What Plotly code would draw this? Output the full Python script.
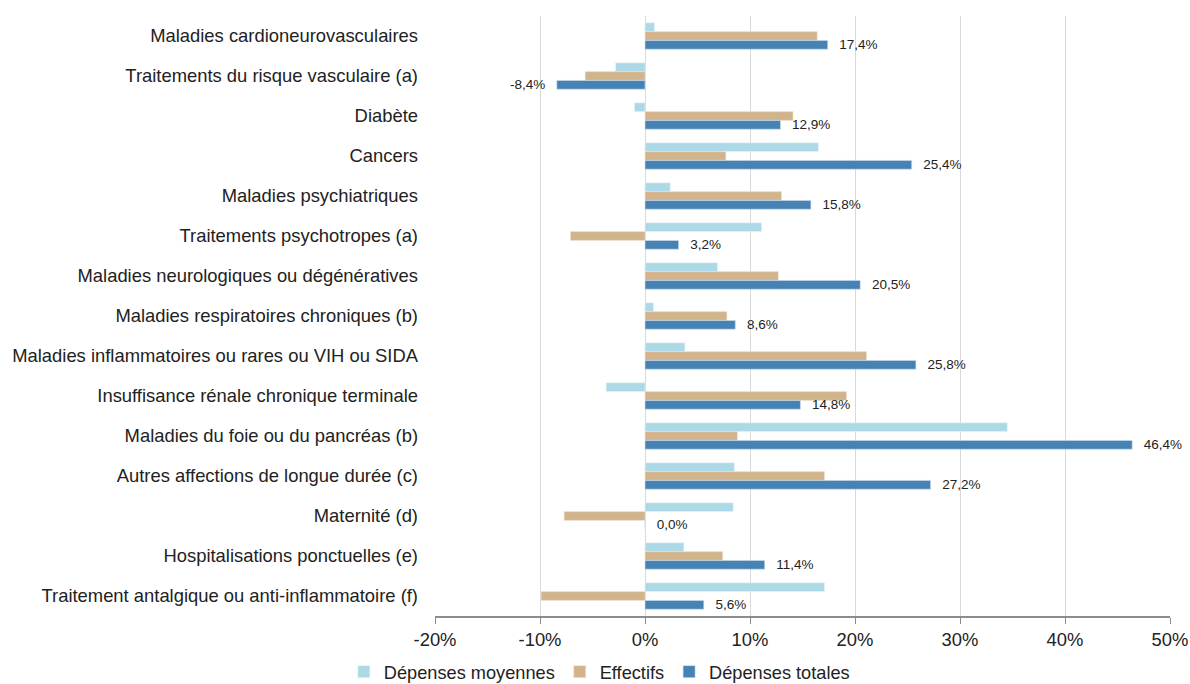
import plotly.graph_objects as go

categories = [
    "Maladies cardioneurovasculaires",
    "Traitements du risque vasculaire (a)",
    "Diabète",
    "Cancers",
    "Maladies psychiatriques",
    "Traitements psychotropes (a)",
    "Maladies neurologiques ou dégénératives",
    "Maladies respiratoires chroniques (b)",
    "Maladies inflammatoires ou rares ou VIH ou SIDA",
    "Insuffisance rénale chronique terminale",
    "Maladies du foie ou du pancréas (b)",
    "Autres affections de longue durée (c)",
    "Maternité (d)",
    "Hospitalisations ponctuelles (e)",
    "Traitement antalgique ou anti-inflammatoire (f)",
]

depenses_moyennes = [0.9, -2.8, -1.0, 16.5, 2.4, 11.1, 6.9, 0.8, 3.8, -3.7, 34.5, 8.5, 8.4, 3.7, 17.1]
effectifs = [16.4, -5.7, 14.1, 7.7, 13.0, -7.1, 12.7, 7.8, 21.1, 19.2, 8.8, 17.1, -7.7, 7.4, -9.9]
depenses_totales = [17.4, -8.4, 12.9, 25.4, 15.8, 3.2, 20.5, 8.6, 25.8, 14.8, 46.4, 27.2, 0.0, 11.4, 5.6]

x_ticks = [-20, -10, 0, 10, 20, 30, 40, 50]

FONT = "Arial, Liberation Sans, sans-serif"
PAD = "\u00a0\u00a0\u200a"


def fmt(v):
    s = f"{v:.1f}".replace(".", ",") + "%"
    return s + PAD if v < 0 else PAD + s


fig = go.Figure()
fig.add_trace(go.Bar(
    y=categories, x=depenses_moyennes, orientation="h", name="Dépenses moyennes",
    marker=dict(color="#ADD8E6", line=dict(color="#e6f2f7", width=0.6)),
    hoverinfo="x+y",
))
fig.add_trace(go.Bar(
    y=categories, x=effectifs, orientation="h", name="Effectifs",
    marker=dict(color="#D2B48C", line=dict(color="#f0e6d8", width=0.6)),
    hoverinfo="x+y",
))
fig.add_trace(go.Bar(
    y=categories, x=depenses_totales, orientation="h", name="Dépenses totales",
    marker=dict(color="#4682B4", line=dict(color="#cfe0ee", width=0.6)),
    text=[fmt(v) for v in depenses_totales], textposition="outside",
    constraintext="none",
    textfont=dict(size=13.5, color="#222222", family=FONT),
    cliponaxis=False, hoverinfo="x+y",
))

fig.update_layout(
    width=1190, height=684,
    margin=dict(l=435, r=20, t=16, b=68, autoexpand=False),
    paper_bgcolor="white", plot_bgcolor="white",
    barmode="group", bargap=0.34, bargroupgap=0,
    font=dict(family=FONT, size=18.4, color="#222222"),
    showlegend=True,
    legend=dict(
        orientation="h", x=-0.124, xanchor="left", y=-0.093, yanchor="middle",
        font=dict(size=18.2, color="#222222"), traceorder="normal",
        itemwidth=30, tracegroupgap=0,
    ),
    xaxis=dict(
        range=[-20, 50], tickvals=x_ticks, ticktext=[f"{t}%" for t in x_ticks],
        showgrid=True, gridcolor="#d9d9d9", gridwidth=1, zeroline=False,
        showline=True, linecolor="#8c8c8c", linewidth=1.5,
        ticks="outside", ticklen=6, tickcolor="#8c8c8c", tickwidth=1.2,
        tickfont=dict(size=18.4, color="#222222"),
    ),
    yaxis=dict(
        type="category", autorange="reversed", showline=False, ticks="",
        showgrid=False, zeroline=False, ticklabelstandoff=16,
        tickfont=dict(size=18.4, color="#222222"),
    ),
    yaxis2=dict(
        overlaying="y", anchor="free", position=2 / 7, side="left",
        type="linear", range=[len(categories) - 0.5, -0.5],
        tickvals=[i - 0.5 for i in range(len(categories) + 1)],
        showticklabels=False, ticks="outside", ticklen=5, tickcolor="#8c8c8c",
        tickwidth=1.2, showline=True, linecolor="#8c8c8c", linewidth=1.5,
        showgrid=False, zeroline=False, fixedrange=True,
    ),
)

fig.write_html(
    "out.html",
    config={"displayModeBar": False},
    post_script="document.body.style.margin='0';document.body.style.padding='0';",
)
